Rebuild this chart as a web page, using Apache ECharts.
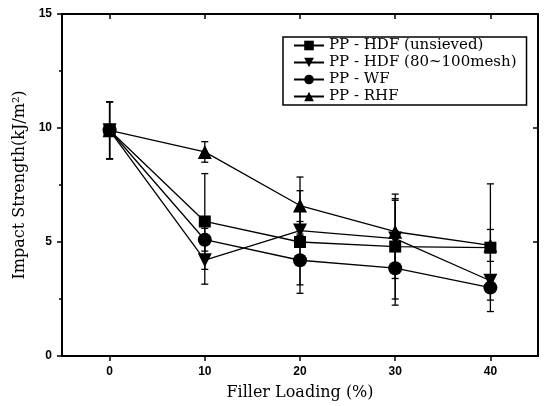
<!DOCTYPE html>
<html>
<head>
<meta charset="UTF-8">
<title>Impact Strength</title>
<script src="https://cdn.jsdelivr.net/npm/echarts@6/dist/echarts.min.js"></script>
<style>
  html, body { margin: 0; padding: 0; background: #fff; }
  #main { width: 544px; height: 406px; }
</style>
</head>
<body>
<div id="main"></div>
<script>
// filler loading (%)
var loading = [0, 10, 20, 30, 40];
var xTicks = [0, 10, 20, 30, 40];

// impact strength (kJ/m2) and error bars
var hdfUnsieved = [9.9, 5.9, 5.0, 4.8, 4.75];
var hdfUnsievedErr = [1.25, 2.1, 2.25, 2.3, 2.8];
var hdfSieved = [9.9, 4.2, 5.5, 5.15, 3.3];
var hdfSievedErr = [1.25, 1.05, 0.4, 1.75, 0.25];
var wf = [9.9, 5.1, 4.2, 3.85, 3.0];
var wfErr = [1.25, 0.5, 1.08, 1.62, 0.55];
var rhf = [9.9, 8.95, 6.6, 5.45, 4.85];
var rhfErr = [1.25, 0.45, 1.25, 1.38, 0.7];

var names = ['PP - HDF (unsieved)', 'PP - HDF (80~100mesh)', 'PP - WF', 'PP - RHF'];
var symbols = ['rect', 'path://M0,0 L10,0 L5,9 Z', 'circle', 'triangle'];
var values = [hdfUnsieved, hdfSieved, wf, rhf];
var errors = [hdfUnsievedErr, hdfSievedErr, wfErr, rhfErr];

var chart = echarts.init(document.getElementById('main'));

function errorBar(params, api) {
    var x = api.value(0), y = api.value(1), e = api.value(2);
    var hi = api.coord([x, y + e]);
    var lo = api.coord([x, y - e]);
    var w = 3.5;
    var st = { stroke: '#000', lineWidth: 1.3 };
    return {
        type: 'group',
        children: [
            { type: 'line', shape: { x1: hi[0], y1: hi[1], x2: lo[0], y2: lo[1] }, style: st },
            { type: 'line', shape: { x1: hi[0] - w, y1: hi[1], x2: hi[0] + w, y2: hi[1] }, style: st },
            { type: 'line', shape: { x1: lo[0] - w, y1: lo[1], x2: lo[0] + w, y2: lo[1] }, style: st }
        ]
    };
}

var series = [];
for (var k = 0; k < names.length; k++) {
    series.push({
        type: 'custom',
        name: names[k] + ' err',
        renderItem: errorBar,
        data: loading.map(function (x, i) { return [x, values[k][i], errors[k][i]]; }),
        z: 1,
        silent: true
    });
}
for (var k = 0; k < names.length; k++) {
    series.push({
        type: 'line',
        name: names[k],
        data: loading.map(function (x, i) { return [x, values[k][i]]; }),
        symbol: symbols[k],
        symbolSize: k == 0 ? 12 : 14,
        showAllSymbol: true,
        lineStyle: { color: '#000', width: 1.3 },
        itemStyle: { color: '#000' },
        z: 3
    });
}

var tickLabel = { color: '#000', fontFamily: 'Liberation Sans', fontWeight: 'bold', fontSize: 12 };
var serif = { color: '#000', fontFamily: 'DejaVu Serif', fontSize: 16 };

chart.setOption({
    animation: false,
    grid: { left: 62, right: 6, top: 14, bottom: 47 },
    legend: {
        data: names,
        orient: 'vertical',
        left: 283,
        top: 37,
        itemWidth: 30,
        itemHeight: 12,
        itemGap: 2,
        padding: [1, 10, 1, 10],
        borderColor: '#000',
        borderWidth: 1.5,
        textStyle: { color: '#000', fontFamily: 'DejaVu Serif', fontSize: 15 }
    },
    xAxis: [{
        type: 'value',
        min: -5,
        max: 45,
        name: 'Filler Loading (%)',
        nameLocation: 'middle',
        nameGap: 29,
        nameTextStyle: serif,
        axisLine: { onZero: false, lineStyle: { color: '#000', width: 2 } },
        axisTick: { customValues: xTicks, length: 5, lineStyle: { color: '#000', width: 1.5 } },
        axisLabel: Object.assign({ customValues: xTicks, margin: 10 }, tickLabel),
        splitLine: { show: false }
    }, {
        type: 'value',
        position: 'top',
        min: -5,
        max: 45,
        axisLine: { onZero: false, lineStyle: { color: '#000', width: 2 } },
        axisTick: { customValues: xTicks, inside: true, length: 5, lineStyle: { color: '#000', width: 1.5 } },
        axisLabel: { show: false },
        splitLine: { show: false }
    }],
    yAxis: [{
        type: 'value',
        min: 0,
        max: 15,
        interval: 5,
        name: 'Impact Strength(kJ/m²)',
        nameLocation: 'middle',
        nameGap: 33,
        nameTextStyle: serif,
        axisLine: { show: true, onZero: false, lineStyle: { color: '#000', width: 2 } },
        axisTick: { length: 5, lineStyle: { color: '#000', width: 1.5 } },
        minorTick: { show: true, splitNumber: 2, length: 3, lineStyle: { color: '#000', width: 1.5 } },
        axisLabel: Object.assign({ margin: 10 }, tickLabel),
        splitLine: { show: false }
    }, {
        type: 'value',
        position: 'right',
        min: 0,
        max: 15,
        interval: 5,
        axisLine: { show: true, onZero: false, lineStyle: { color: '#000', width: 2 } },
        axisTick: { inside: true, length: 5, lineStyle: { color: '#000', width: 1.5 } },
        axisLabel: { show: false },
        splitLine: { show: false }
    }],
    series: series
});
</script>
</body>
</html>
